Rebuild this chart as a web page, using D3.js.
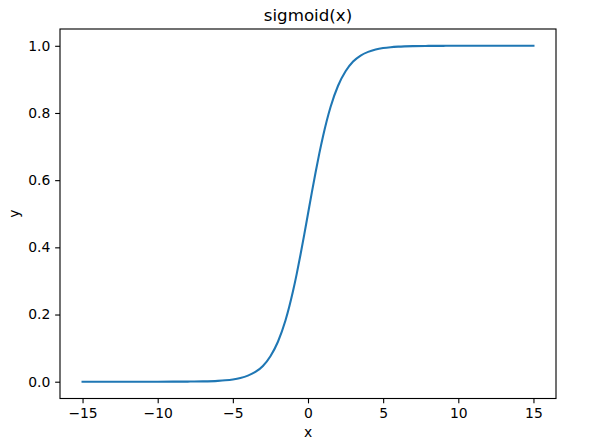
<!DOCTYPE html>
<html><head><meta charset="utf-8">
<script src="https://cdn.jsdelivr.net/npm/d3@7"></script>
<style>body{margin:0;background:#fff}svg{display:block}text{font-family:"DejaVu Sans",sans-serif;fill:#000}</style>
</head><body>
<script>
const xValues = [-15,-12,-10,-9,-8,-7,-6,-5.5,-5,-4.5,-4,-3.5,-3,-2.5,-2,-1.5,-1,-0.75,-0.5,-0.25,0,0.25,0.5,0.75,1,1.5,2,2.5,3,3.5,4,4.5,5,5.5,6,7,8,9,10,12,15];
const yValues = [0.0000003,0.000006,0.000045,0.00012,0.00034,0.0009,0.0025,0.0041,0.0067,0.011,0.018,0.029,0.047,0.076,0.119,0.182,0.269,0.321,0.378,0.438,0.5,0.562,0.622,0.679,0.731,0.818,0.881,0.924,0.953,0.971,0.982,0.989,0.9933,0.9959,0.9975,0.9991,0.99966,0.99988,0.99995,0.999994,0.9999997];
const xTicks = [-15,-10,-5,0,5,10,15];
const yTicks = [0.0,0.2,0.4,0.6,0.8,1.0];
const title = "sigmoid(x)", xLabel = "x", yLabel = "y";

const W = 603, H = 444;
const m = {left:60, right:556, top:29, bottom:398.5};
const svg = d3.select("body").append("svg").attr("width",W).attr("height",H);
const x = d3.scaleLinear().domain([-16.5,16.5]).range([m.left,m.right]);
const y = d3.scaleLinear().domain([-0.05,1.05]).range([m.bottom,m.top]);
const fs = 13.9;

const data = xValues.map((v,i)=>({x:v,y:yValues[i]}));
svg.append("path").datum(data)
  .attr("d", d3.line().x(d=>x(d.x)).y(d=>y(d.y)).curve(d3.curveMonotoneX))
  .attr("fill","none").attr("stroke","#1f77b4").attr("stroke-width",2.08)
  .attr("stroke-linecap","square");

const xa = svg.append("g").attr("transform",`translate(0,${m.bottom})`)
  .call(d3.axisBottom(x).tickValues(xTicks).tickSize(4.86).tickPadding(4.86).tickFormat(d3.format("d")));
const ya = svg.append("g").attr("transform",`translate(${m.left},0)`)
  .call(d3.axisLeft(y).tickValues(yTicks).tickSize(4.86).tickPadding(4.86).tickFormat(d3.format(".1f")));
[xa,ya].forEach(a=>{
  a.select(".domain").remove();
  a.selectAll(".tick line").attr("stroke","#000").attr("stroke-width",1.11);
  a.selectAll("text").attr("font-size",fs).attr("font-family","DejaVu Sans");
});
xa.selectAll("text").attr("dy","0.71em");

svg.append("rect").attr("x",m.left).attr("y",m.top).attr("width",m.right-m.left).attr("height",m.bottom-m.top)
  .attr("fill","none").attr("stroke","#000").attr("stroke-width",1.11);

svg.append("text").attr("x",(m.left+m.right)/2).attr("y",20.5).attr("text-anchor","middle")
  .attr("font-size",16.67).text(title);
svg.append("text").attr("x",(m.left+m.right)/2).attr("y",437).attr("text-anchor","middle")
  .attr("font-size",fs).text(xLabel);
svg.append("text").attr("transform",`translate(19,${(m.top+m.bottom)/2}) rotate(-90)`).attr("text-anchor","middle")
  .attr("font-size",fs).text(yLabel);
</script>
</body></html>
